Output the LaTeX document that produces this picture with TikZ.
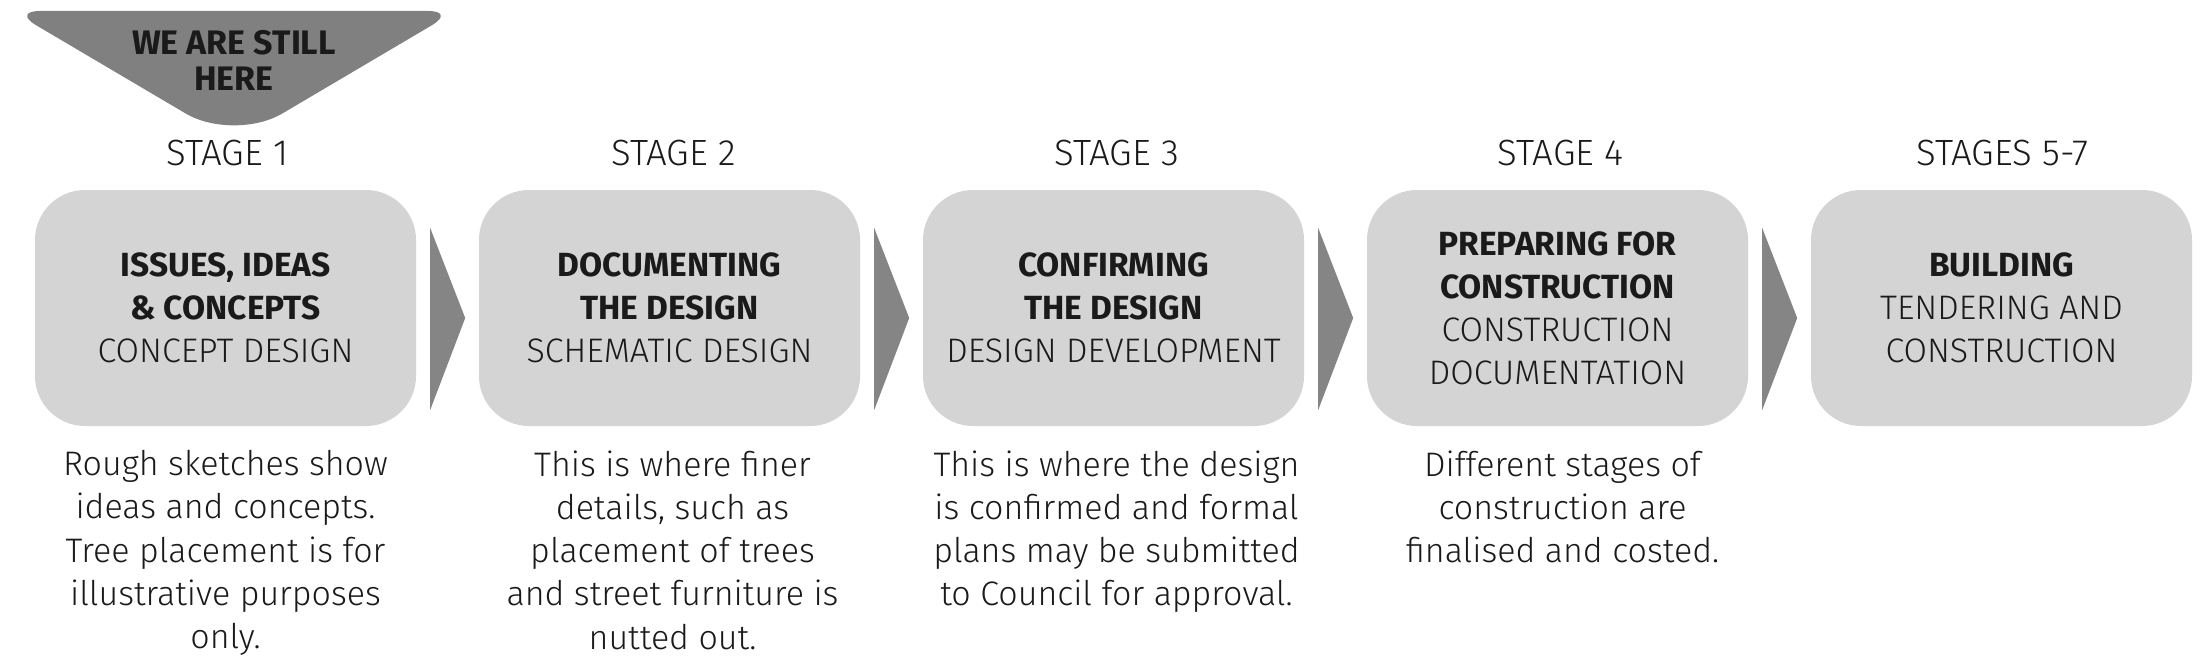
\documentclass[tikz,border=0pt]{standalone}
\usepackage{fontspec}
\setmainfont{Fira Sans}
\newfontfamily\lightfont{Fira Sans Light}
\usetikzlibrary{calc}
\definecolor{bannergray}{HTML}{808080}
\definecolor{boxgray}{HTML}{D4D4D4}
\definecolor{arrowgray}{HTML}{858585}
\definecolor{ink}{HTML}{1A1A1A}
\tikzset{
  stagebox/.style={fill=boxgray, rounded corners=50pt, minimum width=381pt, minimum height=236pt,
    align=center, text=ink, inner sep=0pt, font=\fontsize{34}{43}\selectfont},
  stagelabel/.style={text=ink, font=\lightfont\fontsize{36.5}{43}\selectfont, inner sep=0pt},
  desc/.style={text=ink, align=center, anchor=north, inner sep=0pt, font=\lightfont\fontsize{34}{43.3}\selectfont},
  chevron/.style={fill=arrowgray},
  bannertext/.style={text=ink, align=center, font=\bfseries\fontsize{34}{36}\selectfont, inner sep=0pt}
}
\newcommand{\hd}[1]{{\bfseries\fontsize{33.5}{43}\selectfont #1}}
\newcommand{\lt}[1]{{\lightfont #1}}
\begin{document}
\begin{tikzpicture}[x=1pt,y=-1pt]
\useasboundingbox (0,0) rectangle (2211,666);
\fill[white] (0,0) rectangle (2211,666);

% banner
\fill[bannergray] [rounded corners=28pt] (12,11) -- (456,11) [rounded corners=56pt] -- (234,142) [rounded corners=28pt] -- cycle;
\node[bannertext] (here) at (234,60) {WE ARE STILL\\HERE};

% boxes
\node[stagebox] (b1) at (225.5,308) {\hd{ISSUES, IDEAS}\\\hd{\& CONCEPTS}\\\lt{CONCEPT DESIGN}};
\node[stagebox] (b2) at (669.5,308) {\hd{DOCUMENTING}\\\hd{THE DESIGN}\\\lt{SCHEMATIC DESIGN}};
\node[stagebox] (b3) at (1113.5,308) {\hd{CONFIRMING}\\\hd{THE DESIGN}\\\lt{DESIGN DEVELOPMENT}};
\node[stagebox] (b4) at (1557.5,308) {\hd{PREPARING FOR}\\\hd{CONSTRUCTION}\\\lt{CONSTRUCTION}\\\lt{DOCUMENTATION}};
\node[stagebox] (b5) at (2001.5,308) {\hd{BUILDING}\\\lt{TENDERING AND}\\\lt{CONSTRUCTION}};

% stage labels
\node[stagelabel] (s1) at ($(b1.north)+(2,-37)$) {STAGE 1};
\node[stagelabel] (s2) at ($(b2.north)+(4,-37)$) {STAGE 2};
\node[stagelabel] (s3) at ($(b3.north)+(3,-37)$) {STAGE 3};
\node[stagelabel] (s4) at ($(b4.north)+(3,-37)$) {STAGE 4};
\node[stagelabel] (s5) at ($(b5.north)+(1,-37)$) {STAGES 5-7};

% chevrons
\foreach \a in {b1,b2,b3,b4}{
  \fill[chevron] ($(\a.east)+(14,-80)$) -- ($(\a.east)+(49,10)$) -- ($(\a.east)+(14,102)$) -- cycle;
}

% descriptions
\node[desc] (d1) at ($(b1.south)+(0,24)$) {Rough sketches show\\ideas and concepts.\\Tree placement is for\\illustrative purposes\\only.};
\node[desc] (d2) at ($(b2.south)+(3,24)$) {This is where finer\\details, such as\\placement of trees\\and street furniture is\\nutted out.};
\node[desc] (d3) at ($(b3.south)+(3,24)$) {This is where the design\\is confirmed and formal\\plans may be submitted\\to Council for approval.};
\node[desc] (d4) at ($(b4.south)+(5,24)$) {Different stages of\\construction are\\finalised and costed.};
\end{tikzpicture}
\end{document}
